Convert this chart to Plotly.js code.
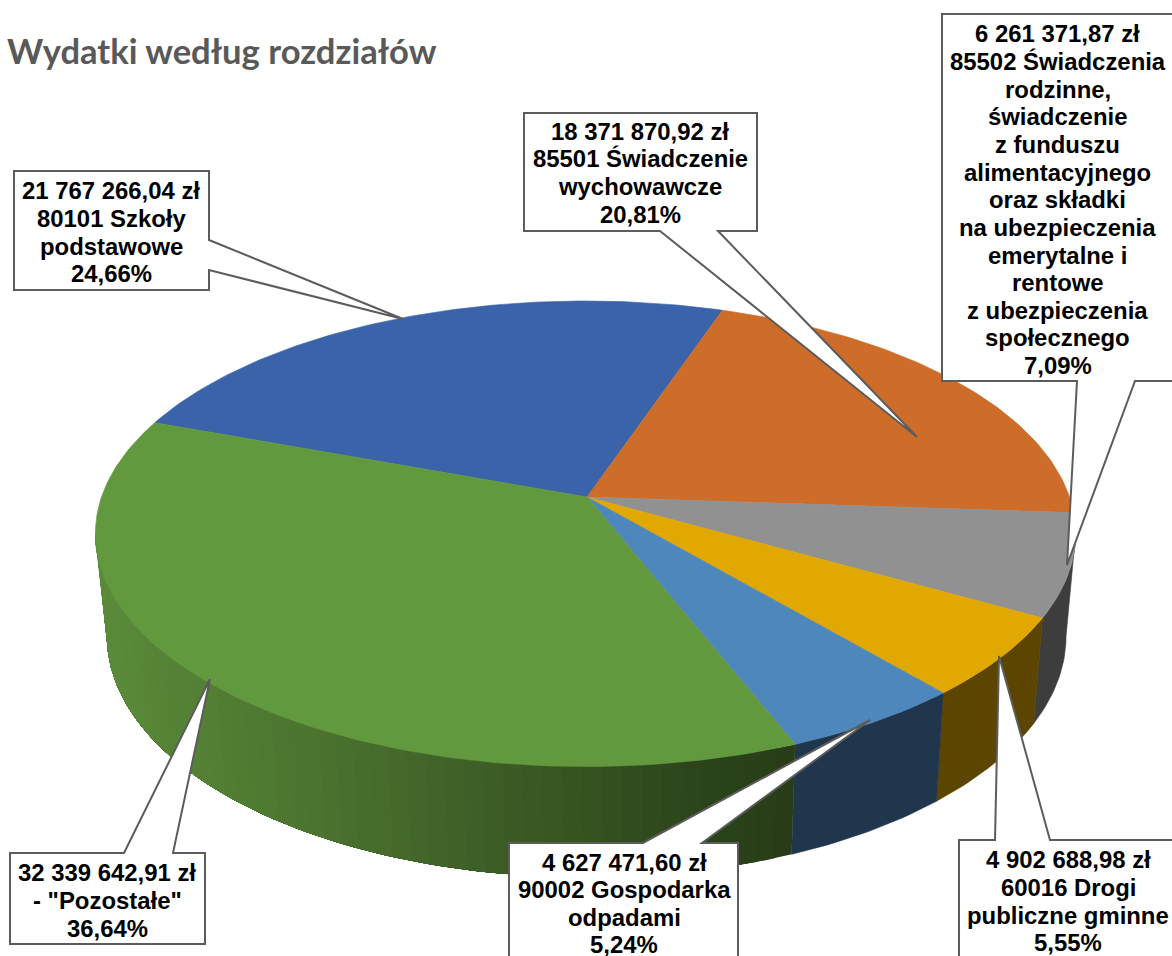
<!DOCTYPE html>
<html lang="pl">
<head>
<meta charset="utf-8">
<title>Wydatki według rozdziałów</title>
<script src="https://cdn.plot.ly/plotly-3.0.1.min.js"></script>
<style>html,body{margin:0;padding:0;background:#fff;overflow:hidden}#chart{width:1172px;height:956px}</style>
</head>
<body>
<div id="chart"></div>
<script>
// ---- data, in clockwise drawing order
const categories = ['80101 Szkoły podstawowe', '85501 Świadczenie wychowawcze',
  '85502 Świadczenia rodzinne', '60016 Drogi publiczne gminne',
  '90002 Gospodarka odpadami', 'Pozostałe'];
const amounts = [21767266.04, 18371870.92, 6261371.87, 4902688.98, 4627471.60, 32339642.91];
const topColors = ['#3a63a9', '#ce6c29', '#919191', '#e0a800', '#4e87bb', '#62993f'];
const sideColors = ['#24395f', '#6e3a14', '#3d3d3d', '#5c4500', '#20364d', null];
const labelLines = [
  ['21 767 266,04 zł', '80101 Szkoły', 'podstawowe', '24,66%'],
  ['18 371 870,92 zł', '85501 Świadczenie', 'wychowawcze', '20,81%'],
  ['6 261 371,87 zł', '85502 Świadczenia', 'rodzinne,', 'świadczenie', 'z funduszu', 'alimentacyjnego',
   'oraz składki', 'na ubezpieczenia', 'emerytalne i', 'rentowe', 'z ubezpieczenia', 'społecznego', '7,09%'],
  ['4 902 688,98 zł', '60016 Drogi', 'publiczne gminne', '5,55%'],
  ['4 627 471,60 zł', '90002 Gospodarka', 'odpadami', '5,24%'],
  ['32 339 642,91 zł', '- "Pozostałe"', '36,64%']
];
const titleText = 'Wydatki według rozdziałów';

// ---- layout constants (pixel space: axes run 0..1172 and 956..0)
const FIRST_ANGLE = 290.2;
const P = 0.158;                                    // perspective of the pie plane
const APEX = [587, 497];                            // where the slices meet
const TOP = {x0: 585.5, y0: 497, a: 484, b: 227};   // upper face
const BOT = {x0: 586.5, y0: 598.4, a: 473.5, b: 235}; // lower face
const LINE_H = 27.65;
const labelX = [111, 640, 1057.5, 1068, 624, 107];  // centre of each text block
const labelY = [190.8, 131.3, 33.8, 859.8, 862, 872.8]; // centre of its first line
// callout outlines: box [l, t, r, b], side of the wedge, wedge base a..b, tip
const callouts = [
  {box: [14, 171, 209, 290], side: 'r', a: 240, b: 270, tip: [403, 319]},
  {box: [524, 113, 757, 231], side: 'b', a: 660, b: 718, tip: [917, 437]},
  {box: [942, 14, 1190, 381], side: 'b', a: 1077, b: 1135, tip: [1067, 565]},
  {box: [959, 840, 1190, 980], side: 't', a: 995, b: 1050, tip: [999, 656]},
  {box: [509, 843, 738, 980], side: 't', a: 643, b: 702, tip: [870, 720]},
  {box: [10, 853, 205, 944], side: 't', a: 124, b: 173, tip: [210, 679]}
];
// green side shading by screen x
const greenStops = [[96, [90, 139, 58]], [300, [76, 117, 47]], [500, [60, 92, 38]], [700, [44, 68, 26]], [800, [39, 60, 23]]];

// ---- geometry through the value scale
const rad = d => d * Math.PI / 180;
function project(f, deg) {
  const s = Math.sin(rad(deg)), c = Math.cos(rad(deg)), k = 1 + P * c;
  return [f.x0 + f.a * s / k, f.y0 - f.b * c / k];
}
function arc(f, from, to) {
  const n = Math.max(2, Math.ceil(Math.abs(to - from)));
  const pts = [];
  for (let i = 0; i <= n; i++) pts.push(project(f, from + (to - from) * i / n));
  return pts;
}
const total = amounts.reduce((a, b) => a + b, 0);
let cursor = FIRST_ANGLE;
const sweeps = amounts.map(v => {
  const from = cursor;
  cursor += v / total * 360;
  return [from, cursor];
});

function poly(pts, color, lw) {
  return {
    type: 'scatter', mode: 'lines', hoverinfo: 'skip', showlegend: false,
    x: pts.map(p => p[0]).concat([pts[0][0]]), y: pts.map(p => p[1]).concat([pts[0][1]]),
    fill: 'toself', fillcolor: color, line: {color: color, width: lw}
  };
}
function greenAt(x) {
  for (let i = 0; i < greenStops.length - 1; i++) {
    const A = greenStops[i], B = greenStops[i + 1];
    if (x <= B[0]) {
      const t = Math.max(0, (x - A[0]) / (B[0] - A[0]));
      const c = A[1].map((v, j) => Math.round(v + (B[1][j] - v) * t));
      return 'rgb(' + c.join(',') + ')';
    }
  }
  return 'rgb(' + greenStops[greenStops.length - 1][1].join(',') + ')';
}

const traces = [];
// the visible wall runs between the two silhouette angles
const silA = Math.acos(-P) * 180 / Math.PI, silB = 360 - silA;
// the green strips are painted from its far end (right) to the left, each over the next
sweeps.forEach((sw, i) => {
  [0, 360].forEach(off => {
    const from = Math.max(sw[0] - off, silA), to = Math.min(sw[1] - off, silB);
    if (to <= from) return;
    if (sideColors[i]) {
      traces.push(poly(arc(TOP, from, to).concat(arc(BOT, from, to).reverse()), sideColors[i], 0.6));
    } else {
      const STEP = 2;
      for (let d = from; d < to; d += STEP) {
        const e = to;                        // reaches on under the following strips
        const q = arc(TOP, d, e).concat(arc(BOT, d, e).reverse());
        traces.push(poly(q, greenAt(project(TOP, d + STEP / 2)[0]), 0));
      }
    }
  });
});
sweeps.forEach((sw, i) => {
  traces.push(poly([APEX].concat(arc(TOP, sw[0], sw[1])), topColors[i], 0.6));
});

function calloutPath(c) {
  const [l, t, r, b] = c.box, T = c.tip;
  const seq = [[l, t]];
  if (c.side === 't') seq.push([c.a, t], T, [c.b, t]);
  seq.push([r, t]);
  if (c.side === 'r') seq.push([r, c.a], T, [r, c.b]);
  seq.push([r, b]);
  if (c.side === 'b') seq.push([c.b, b], T, [c.a, b]);
  seq.push([l, b]);
  return 'M' + seq.map(p => p[0] + ',' + p[1]).join('L') + 'Z';
}
const shapes = callouts.map(c => ({
  type: 'path', xref: 'x', yref: 'y', path: calloutPath(c), layer: 'above',
  fillcolor: '#ffffff', line: {color: '#5c5c5c', width: 2}
}));

const annotations = [];
labelLines.forEach((lines, i) => {
  lines.forEach((txt, j) => {
    annotations.push({
      xref: 'x', yref: 'y', x: labelX[i], y: labelY[i] + j * LINE_H,
      xanchor: 'center', yanchor: 'middle', showarrow: false, text: '<b>' + txt + '</b>',
      font: {family: '"Liberation Sans", Arial, sans-serif', size: 23.9, color: '#000000'}
    });
  });
});

const layout = {
  width: 1172, height: 956, margin: {l: 0, r: 0, t: 0, b: 0},
  paper_bgcolor: '#ffffff', plot_bgcolor: '#ffffff', showlegend: false,
  xaxis: {range: [0, 1172], visible: false, fixedrange: true},
  yaxis: {range: [956, 0], visible: false, fixedrange: true},
  title: {
    text: '<b>' + titleText + '</b>', x: 7 / 1172, xref: 'paper', xanchor: 'left',
    y: 1 - 52 / 956, yref: 'paper', yanchor: 'middle',
    font: {family: 'Lato, "Open Sans", sans-serif', size: 34.6, color: '#595959'}
  },
  shapes: shapes, annotations: annotations
};
Plotly.newPlot('chart', traces, layout, {displayModeBar: false, responsive: false});
</script>
</body>
</html>
